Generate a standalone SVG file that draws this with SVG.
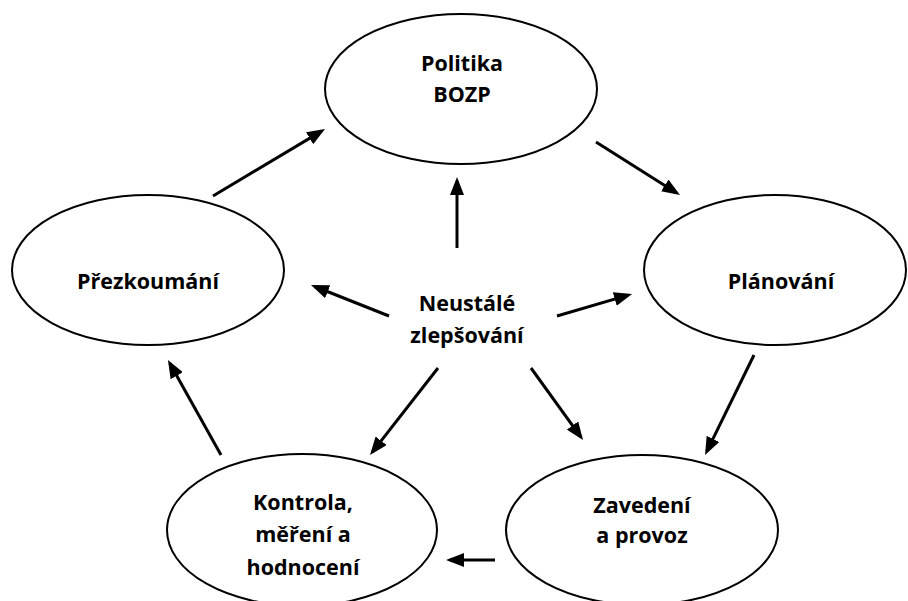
<svg xmlns="http://www.w3.org/2000/svg" width="908" height="601" viewBox="0 0 908 601">
<style>
  .node ellipse { fill: #ffffff; stroke: #000000; stroke-width: 2; }
  .label { font-family: "Open Sans", "Liberation Sans", sans-serif; font-weight: bold; font-size: 21.5px; fill: #000000; text-anchor: middle; }
  .conn line { stroke: #000000; stroke-width: 3; marker-end: url(#arrow); }
</style>
<defs>
  <marker id="arrow" markerUnits="userSpaceOnUse" markerWidth="18" markerHeight="14" refX="14" refY="7" orient="auto">
    <path d="M0,0 L18,7 L0,14 z" fill="#000000"/>
  </marker>
</defs>
<rect x="0" y="0" width="908" height="601" fill="#ffffff"/>

<g id="politika" class="node">
  <ellipse cx="461" cy="89" rx="136" ry="75"/>
  <text class="label" x="462" y="71">Politika</text>
  <text class="label" x="462" y="102">BOZP</text>
</g>
<g id="planovani" class="node">
  <ellipse cx="775" cy="270" rx="131" ry="75"/>
  <text class="label" x="781" y="289">Plánování</text>
</g>
<g id="prezkoumani" class="node">
  <ellipse cx="148" cy="270" rx="136" ry="75"/>
  <text class="label" x="148" y="289">Přezkoumání</text>
</g>
<g id="kontrola" class="node">
  <ellipse cx="302" cy="530" rx="135" ry="76"/>
  <text class="label" x="303" y="510">Kontrola,</text>
  <text class="label" x="303" y="542">měření a</text>
  <text class="label" x="303" y="575">hodnocení</text>
</g>
<g id="zavedeni" class="node">
  <ellipse cx="642" cy="530" rx="136" ry="75"/>
  <text class="label" x="642" y="513">Zavedení</text>
  <text class="label" x="642" y="543">a provoz</text>
</g>
<g id="zlepsovani" class="node">
  <text class="label" x="467" y="311">Neustálé</text>
  <text class="label" x="467" y="343">zlepšování</text>
</g>

<g id="connectors" class="conn">
  <line x1="213" y1="196" x2="321.6" y2="131.1"/>
  <line x1="596" y1="142" x2="676.6" y2="192.9"/>
  <line x1="754" y1="355" x2="706.8" y2="451.4"/>
  <line x1="495" y1="560" x2="450" y2="560"/>
  <line x1="221" y1="455" x2="169.9" y2="363.5"/>
  <line x1="457" y1="248" x2="457" y2="181"/>
  <line x1="389" y1="316" x2="314.7" y2="286.5"/>
  <line x1="557" y1="316" x2="628.2" y2="295.1"/>
  <line x1="438" y1="368" x2="372.5" y2="451.8"/>
  <line x1="531" y1="368" x2="580.7" y2="436.8"/>
</g>
</svg>
